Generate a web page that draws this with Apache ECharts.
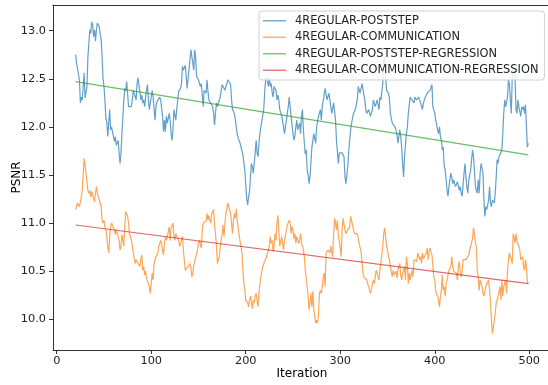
<!DOCTYPE html>
<html>
<head>
<meta charset="utf-8">
<script src="https://cdn.jsdelivr.net/npm/echarts@6/dist/echarts.min.js"></script>
<style>
html,body{margin:0;padding:0;background:#fff;}
#chart{width:548px;height:385px;}
</style>
</head>
<body>
<div id="chart"></div>
<script>
// Tick labels
const xTicks = [0, 100, 200, 300, 400, 500];
const yTicks = [10.0, 10.5, 11.0, 11.5, 12.0, 12.5, 13.0];
const seriesNames = ['4REGULAR-POSTSTEP', '4REGULAR-COMMUNICATION', '4REGULAR-POSTSTEP-REGRESSION', '4REGULAR-COMMUNICATION-REGRESSION'];

// [iteration, PSNR]
const postStep = [[20,12.75],[21,12.66],[23,12.68],[24,12.49],[25,12.25],[26,12.31],[27,12.28],[29,12.56],[30,12.30],[31,12.28],[32,12.42],[33,12.73],[34,12.87],[35,13.01],[36,12.97],[37,13.09],[38,13.06],[39,12.94],[40,13.01],[41,12.89],[42,13.01],[43,13.08],[44,13.09],[45,13.04],[47,12.90],[48,12.73],[49,12.50],[50,12.42],[51,12.28],[52,12.09],[53,12.05],[54,11.90],[55,12.04],[56,12.18],[57,11.97],[58,12.00],[59,11.95],[60,11.97],[61,11.85],[62,11.90],[63,11.81],[65,11.86],[66,11.73],[67,11.62],[68,11.73],[69,11.93],[70,12.11],[71,12.28],[72,12.40],[73,12.37],[74,12.47],[75,12.35],[76,12.21],[77,12.21],[78,12.19],[79,12.21],[80,12.28],[81,12.38],[83,12.38],[84,12.28],[85,12.45],[86,12.51],[87,12.44],[88,12.37],[89,12.28],[90,12.33],[91,12.25],[92,12.28],[93,12.21],[94,12.31],[95,12.30],[96,12.44],[97,12.28],[98,12.18],[99,12.25],[101,12.38],[102,12.31],[103,12.19],[104,12.07],[105,12.21],[106,12.26],[107,12.28],[108,12.28],[109,12.31],[110,12.28],[111,12.28],[112,12.11],[113,11.95],[114,12.07],[115,11.95],[116,12.11],[117,12.04],[119,12.14],[120,12.07],[121,11.93],[122,11.86],[123,11.97],[124,12.18],[125,12.19],[126,12.07],[127,12.18],[128,12.28],[129,12.37],[130,12.38],[131,12.40],[132,12.45],[133,12.63],[134,12.59],[136,12.64],
[138,12.40],[139,12.40],[141,12.70],[142,12.80],[144,12.66],[145,12.59],[146,12.80],[147,12.73],[148,12.52],[150,12.49],[152,12.42],[153,12.45],[154,12.33],[155,12.21],[156,12.38],[158,12.35],[159,12.49],[160,12.37],[161,12.28],[162,12.26],[163,12.28],[165,12.21],[166,12.14],[167,12.02],[168,12.14],[169,12.25],[170,12.21],[172,12.28],[173,12.31],[174,12.38],[175,12.44],[176,12.44],[178,12.38],[179,12.42],[180,12.45],[181,12.49],[182,12.51],[184,12.44],[185,12.28],[186,12.18],[187,12.18],[188,12.14],[190,12.00],[191,11.92],[192,11.90],[193,11.92],[194,11.83],[195,11.83],[197,11.71],[198,11.69],[199,11.55],[200,11.40],[201,11.26],[202,11.19],[203,11.27],[204,11.33],[205,11.48],[206,11.62],[207,11.59],[208,11.52],[209,11.62],[211,11.86],[212,11.73],[213,11.69],[214,11.83],[215,11.93],[216,12.00],[218,12.00],[219,12.18],[220,12.35],[221,12.49],[222,12.52],[224,12.42],[225,12.51],[226,12.42],[227,12.45],[228,12.35],[229,12.31],[230,12.42],[232,12.38],[233,12.28],[234,12.33],[235,12.28],[236,12.18],[238,12.12],[239,12.11],[240,12.00],[241,11.93],[242,12.00],[244,12.14],[245,12.21],[246,12.31],[247,12.21],[248,12.11],[250,11.93],[251,11.86],[252,11.90],[253,12.00],[254,12.07],[255,11.97],[257,12.04],[258,11.93],[259,12.11],[260,12.18],[261,11.97],[262,11.83],[263,11.72],[264,11.76],[265,11.55],[266,11.50],[267,11.41],[268,11.48],[270,11.79],[272,11.93],[274,11.83],[275,12.00],[277,12.11],[279,12.18],[280,12.07],[281,12.21],[282,12.19],[284,12.40],[286,12.28],[288,12.35],[289,12.28],[291,12.14],[293,12.25],[295,12.07],[296,11.86],[298,11.62],[299,11.73],[300,11.73],[302,11.73],[304,11.69],[305,11.48],[306,11.41],[308,11.59],[309,11.76],[311,11.97],[312,12.04],[314,12.14],[316,12.18],[318,12.28],[319,12.42],[321,12.35],[323,12.45],[325,12.47],[326,12.28],[327,12.18],[328,12.14],[330,12.18],[332,12.11],[334,12.18],[335,12.28],[337,12.21],[339,12.28],[341,12.18],[342,12.31],[343,12.28],[345,12.45],[346,12.70],[347,12.73],[348,12.52],[349,12.38],[351,12.35],[352,12.30],[353,12.14],[355,12.04],[357,12.02],[358,12.00],[360,11.93],[361,11.83],[363,11.97],[364,11.90],[365,11.79],[366,11.62],[367,11.48],[368,11.69],[370,11.93],[371,12.00],[372,12.14],[374,12.31],[376,12.28],[378,12.25],[379,12.31],[381,12.28],[383,12.31],[385,12.25],[387,12.18],[388,12.25],[390,12.31],[392,12.35],[394,12.33],[395,12.38],
[397,12.44],[398,12.21],[399,12.21],[400,12.14],[401,12.07],[403,11.97],[404,11.93],[405,12.00],[406,11.90],[407,11.86],[408,11.76],[409,11.79],[410,11.59],[411,11.55],[412,11.45],[413,11.34],[414,11.28],[415,11.38],[417,11.52],[418,11.48],[419,11.41],[420,11.45],[421,11.41],[422,11.38],[424,11.43],[425,11.41],[426,11.34],[427,11.38],[428,11.31],[429,11.28],[431,11.52],[432,11.62],[433,11.48],[434,11.38],[435,11.31],[436,11.45],[438,11.55],[439,11.66],[440,11.76],[441,11.69],[442,11.55],[443,11.38],[445,11.31],[446,11.45],[447,11.31],[448,11.52],[449,11.62],[451,11.52],[452,11.24],[453,11.07],[454,11.17],[455,11.14],[457,11.24],[458,11.38],[459,11.21],[460,11.17],[461,11.24],[463,11.21],[464,11.31],[465,11.48],[466,11.66],[467,11.62],[468,11.69],[470,11.73],[471,11.76],[472,11.93],[473,12.14],[474,12.28],[475,12.21],[477,12.31],[478,12.49],[479,12.45],[480,12.28],[481,12.14],[482,12.52],[484,12.63],[485,12.49],[486,12.18],[487,12.14],[488,12.28],[489,12.21],[491,12.11],[492,12.21],[493,12.18],[494,12.21],[495,12.14],[496,12.23],[497,12.00],[498,11.79],[499,11.83]];

const communication = [[20,11.14],[22,11.21],[23,11.22],[24,11.17],[25,11.15],[26,11.27],[27,11.34],[28,11.52],[29,11.67],[30,11.69],[31,11.52],[32,11.52],[33,11.34],[34,11.31],[35,11.34],[36,11.27],[37,11.33],[38,11.31],[39,11.34],[40,11.22],[41,11.31],[42,11.38],[43,11.31],[44,11.27],[45,11.24],[47,11.17],[48,11.03],[49,11.00],[50,11.03],[51,10.96],[52,10.93],[53,10.86],[54,10.76],[55,10.69],[56,10.86],[57,10.96],[58,11.00],[59,11.02],[60,11.02],[61,10.93],[62,10.88],[63,10.93],[65,10.93],[66,10.82],[67,10.72],[68,10.76],[69,10.88],[70,10.82],[71,10.76],[72,10.96],[73,11.12],[74,11.12],[75,11.07],[76,11.00],[77,10.89],[78,10.86],[79,10.82],[80,10.76],[81,10.69],[83,10.58],[84,10.62],[85,10.62],[86,10.58],[87,10.60],[88,10.55],[89,10.62],[90,10.67],[91,10.51],[92,10.55],[93,10.46],[94,10.50],[95,10.43],[96,10.41],[97,10.44],[98,10.34],[99,10.27],[101,10.48],[102,10.41],[103,10.58],[104,10.56],[105,10.65],[106,10.67],[107,10.69],[108,10.76],[109,10.79],[110,10.82],[111,10.81],[112,10.72],[113,10.67],[114,10.79],[115,10.86],[116,10.82],[117,10.86],[119,10.96],[120,10.82],[121,10.95],[122,10.93],[123,11.00],[124,10.86],[125,10.82],[126,10.89],[127,10.89],[128,10.88],[129,10.82],[130,10.76],[131,10.74],[132,10.82],[133,10.86],[134,10.72],[136,10.51],
[137,10.51],[138,10.53],[139,10.55],[140,10.56],[141,10.58],[142,10.53],[143,10.44],[144,10.48],[145,10.56],[146,10.60],[148,10.62],[149,10.72],[150,10.79],[151,10.82],[152,10.81],[153,10.74],[154,10.93],[155,11.00],[156,11.02],[157,11.00],[158,11.02],[159,11.10],[160,11.03],[161,11.08],[162,11.03],[163,11.00],[164,11.10],[166,11.14],[167,10.98],[168,10.89],[169,10.76],[170,10.58],[171,10.56],[172,10.65],[173,10.76],[174,10.82],[175,10.88],[176,10.98],[177,10.86],[178,11.00],[179,11.10],[180,11.14],[181,11.21],[182,11.17],[184,11.10],[185,11.00],[186,10.89],[187,11.03],[188,11.10],[189,11.05],[190,11.15],[191,11.02],[192,11.00],[193,11.00],[194,10.81],[195,10.81],[196,10.69],[197,10.51],[198,10.37],[199,10.31],[200,10.20],[202,10.17],[203,10.13],[204,10.20],[205,10.24],[206,10.18],[207,10.11],[208,10.20],[209,10.17],[210,10.24],[211,10.27],[212,10.20],[213,10.13],[214,10.27],[215,10.37],[216,10.44],[217,10.46],[218,10.55],[220,10.60],[221,10.62],[222,10.65],[223,10.69],[224,10.72],[225,10.77],[226,10.86],[227,10.79],[228,10.82],[229,10.70],[230,10.76],[231,10.89],[232,10.82],[233,11.00],[234,11.08],[235,10.93],[236,10.76],[238,10.86],[239,10.79],[240,10.72],[241,10.82],[242,10.84],[243,10.93],[244,10.98],[245,11.00],[246,11.03],[247,11.00],[248,10.89],[249,10.96],[250,10.93],[251,10.84],[252,10.89],[253,10.79],[254,10.86],[256,10.79],[257,10.82],[258,10.89],[259,10.79],[260,10.76],[261,10.72],[262,10.65],[263,10.51],[264,10.53],[265,10.34],[266,10.24],[267,10.10],[268,10.17],
[269,10.27],[270,10.13],[271,10.29],[272,10.10],[274,9.96],[275,9.99],[276,9.96],[277,10.06],[278,10.27],[279,10.30],[280,10.27],[281,10.34],[282,10.44],[283,10.48],[284,10.34],[285,10.69],[286,10.70],[287,10.72],[288,10.74],[289,10.69],[290,10.76],[292,10.65],[293,10.89],[294,11.05],[295,11.00],[296,10.93],[297,11.03],[298,10.86],[299,10.82],[300,10.74],[301,10.65],[302,10.93],[303,11.05],[304,11.03],[305,10.93],[306,10.89],[307,10.88],[308,10.93],[310,10.96],[311,11.07],[312,11.08],[313,10.98],[314,10.93],[315,10.89],[316,10.91],[317,10.88],[318,10.89],[319,10.84],[320,10.79],[321,10.81],[322,10.70],[323,10.60],[324,10.48],[325,10.44],[327,10.46],[328,10.41],[329,10.43],[330,10.34],[331,10.30],[332,10.27],[333,10.29],[334,10.27],[335,10.41],[336,10.37],[337,10.44],[338,10.51],[339,10.48],[340,10.44],[341,10.41],[342,10.51],[343,10.58],[345,10.76],[346,10.89],[347,10.95],[348,10.93],[349,10.76],[350,10.72],[351,10.65],[352,10.62],[353,10.55],[354,10.50],[355,10.44],[356,10.51],[357,10.46],[358,10.44],[359,10.50],[360,10.43],[361,10.51],[363,10.58],[364,10.46],[365,10.41],[366,10.48],[367,10.51],[368,10.55],[369,10.41],[370,10.65],[371,10.58],[372,10.37],[373,10.48],[374,10.41],[375,10.39],[376,10.51],[377,10.44],[378,10.62],[379,10.63],[381,10.60],[382,10.69],[383,10.70],[384,10.62],[385,10.65],[386,10.58],[387,10.69],[388,10.63],[389,10.62],[390,10.65],[391,10.69],[392,10.74],[393,10.62],[394,10.70],[395,10.74],
[397,10.67],[398,10.55],[399,10.44],[400,10.41],[401,10.29],[402,10.27],[403,10.24],[404,10.20],[405,10.13],[406,10.24],[407,10.30],[408,10.46],[409,10.30],[410,10.34],[411,10.24],[412,10.37],[413,10.41],[415,10.51],[416,10.51],[417,10.55],[418,10.65],[419,10.55],[420,10.50],[421,10.51],[422,10.50],[423,10.48],[424,10.41],[425,10.55],[426,10.60],[427,10.48],[428,10.44],[429,10.50],[430,10.62],[431,10.63],[433,10.62],[434,10.60],[435,10.62],[436,10.67],[437,10.72],[438,10.70],[439,10.74],[440,10.84],[441,10.95],[442,10.89],[443,10.79],[444,10.76],[445,10.51],[446,10.44],[447,10.30],[448,10.41],[449,10.39],[450,10.34],[451,10.27],[452,10.24],[453,10.25],[454,10.34],[455,10.37],[457,10.41],[458,10.30],[459,10.17],[460,9.99],[461,9.85],[462,9.92],[463,9.99],[464,10.06],[465,10.17],[466,10.20],[467,10.24],[468,10.25],[469,10.34],[470,10.20],[471,10.41],[472,10.24],[473,10.34],[475,10.41],[476,10.27],[477,10.51],[478,10.62],[479,10.69],[480,10.65],[481,10.62],[482,10.58],[483,10.89],[484,10.86],[485,10.79],[486,10.89],[487,10.81],[488,10.82],[489,10.76],[490,10.72],[491,10.62],[493,10.65],[494,10.55],[495,10.51],[496,10.62],[497,10.55],[498,10.39],[499,10.37]];

// Regression line end points
const postStepRegression = [[20,12.47],[499,11.71]];
const communicationRegression = [[20,10.98],[499,10.37]];

const colors = ['#1f77b4', '#ff7f0e', '#2ca02c', '#d62728'];
const FONT = 'DejaVu Sans';

const chart = echarts.init(document.getElementById('chart'), null, {renderer: 'canvas'});

function lineSeries(name, data, color) {
  return {
    name: name, type: 'line', data: data, symbol: 'none', showSymbol: false,
    animation: false, silent: true,
    lineStyle: {color: color, width: 1.2, opacity: 0.7},
    itemStyle: {color: color, opacity: 0.7}
  };
}

chart.setOption({
  animation: false,
  backgroundColor: '#fff',
  textStyle: {fontFamily: FONT},
  grid: {left: 53, top: 5, width: 498, height: 345, containLabel: false, outerBoundsMode: 'none'},
  xAxis: [{
    type: 'value', min: -3.95, max: 523, position: 'bottom',
    name: 'Iteration', nameLocation: 'middle', nameGap: 18, nameMoveOverlap: false,
    nameTextStyle: {fontFamily: FONT, fontSize: 12, color: '#000'},
    axisLine: {show: true, onZero: false, lineStyle: {color: '#333', width: 1}},
    axisTick: {show: true, length: 4, customValues: xTicks, lineStyle: {color: '#333'}},
    axisLabel: {customValues: xTicks, margin: 6, fontFamily: FONT, fontSize: 11.3, color: '#222'},
    splitLine: {show: false}
  }, {
    type: 'value', min: -3.95, max: 523, position: 'top',
    axisLine: {show: true, onZero: false, lineStyle: {color: '#333', width: 1}},
    axisTick: {show: false}, axisLabel: {show: false}, splitLine: {show: false}
  }],
  yAxis: [{
    type: 'value', min: 9.681, max: 13.267,
    name: 'PSNR', nameLocation: 'middle', nameGap: 30, nameMoveOverlap: false,
    nameTextStyle: {fontFamily: FONT, fontSize: 12, color: '#000'},
    axisLine: {show: true, onZero: false, lineStyle: {color: '#333', width: 1}},
    axisTick: {show: true, length: 4, customValues: yTicks, lineStyle: {color: '#333'}},
    axisLabel: {customValues: yTicks, margin: 7, fontFamily: FONT, fontSize: 11.3, color: '#222',
      formatter: v => Number(v).toFixed(1)},
    splitLine: {show: false}
  }],
  legend: {
    data: seriesNames.map(n => ({name: n, icon: 'rect'})),
    orient: 'vertical', left: 259, top: 11,
    itemWidth: 23, itemHeight: 1.5, itemGap: 3,
    padding: [3, 6, 3, 4],
    itemStyle: {opacity: 0.6},
    backgroundColor: 'rgba(255,255,255,0.8)', borderColor: '#d0d0d0', borderWidth: 1, borderRadius: 3,
    textStyle: {fontFamily: FONT, fontSize: 11.4, color: '#222', lineHeight: 13.5, padding: [0, 0, 0, 4]},
    selectedMode: false
  },
  series: [
    lineSeries(seriesNames[0], postStep, colors[0]),
    lineSeries(seriesNames[1], communication, colors[1]),
    lineSeries(seriesNames[2], postStepRegression, colors[2]),
    lineSeries(seriesNames[3], communicationRegression, colors[3])
  ]
});
</script>
</body>
</html>
